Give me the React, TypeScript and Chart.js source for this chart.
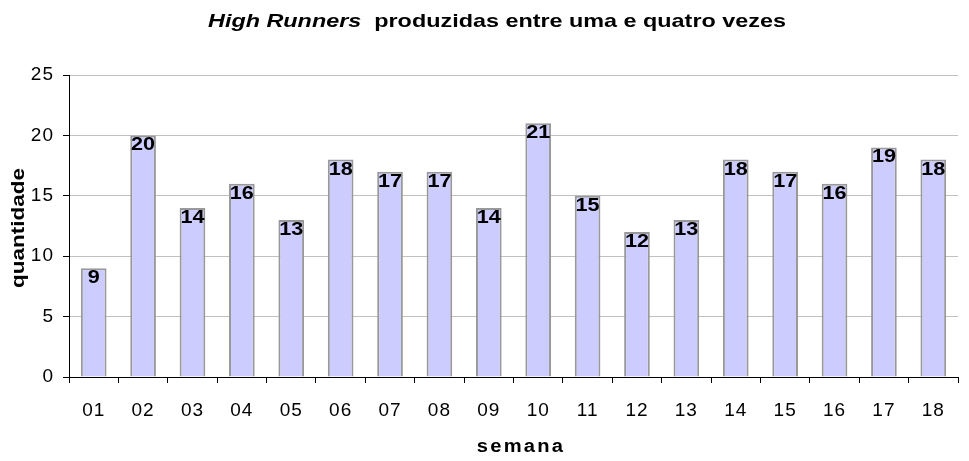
import React, { useEffect, useRef } from "react";
import { Chart, registerables } from "chart.js";

Chart.register(...registerables);

const categories = ["01", "02", "03", "04", "05", "06", "07", "08", "09", "10", "11", "12", "13", "14", "15", "16", "17", "18"];
const quantidade = [9, 20, 14, 16, 13, 18, 17, 17, 14, 21, 15, 12, 13, 18, 17, 16, 19, 18];
const yTicks = [0, 5, 10, 15, 20, 25];

const FONT = "'Liberation Sans', Arial, sans-serif";

const spacingPlugin = {
  id: "tickSpacing",
  beforeDraw(chart: any) {
    chart.ctx.letterSpacing = "1px";
  },
  beforeDatasetsDraw(chart: any) {
    chart.ctx.letterSpacing = "0px";
  },
};

const labelPlugin = {
  id: "barLabels",
  afterDatasetsDraw(chart: any) {
    const ctx = chart.ctx;
    const meta = chart.getDatasetMeta(0);
    meta.data.forEach((bar: any, i: number) => {
      ctx.save();
      ctx.letterSpacing = "0px";
      ctx.font = `bold 18px ${FONT}`;
      ctx.fillStyle = "#000";
      ctx.textAlign = "center";
      ctx.textBaseline = "top";
      ctx.translate(bar.x, bar.y + 1);
      ctx.scale(1.2, 1);
      ctx.fillText(String(chart.data.datasets[0].data[i]), 0, 0);
      ctx.restore();
    });
  },
};

export default function App() {
  const ref = useRef<HTMLCanvasElement>(null);
  useEffect(() => {
    const chart = new Chart(ref.current!, {
      type: "bar",
      data: {
        labels: categories,
        datasets: [
          {
            data: quantidade,
            backgroundColor: "#ccccff",
            borderColor: "#999999",
            borderWidth: 2,
            borderSkipped: "bottom",
            barPercentage: 0.52,
            categoryPercentage: 1,
          },
        ],
      },
      options: {
        animation: false,
        responsive: false,
        layout: { padding: { top: 75, right: 11, left: 0, bottom: 0 } },
        plugins: { legend: { display: false }, tooltip: { enabled: false }, title: { display: false } },
        scales: {
          x: {
            afterFit(scale: any) {
              scale.height = 84;
            },
            grid: { display: true, drawOnChartArea: false, drawTicks: true, tickLength: 6, tickColor: "#000", offset: true },
            border: { display: true, color: "#000", width: 1 },
            ticks: { color: "#000", font: { family: FONT, size: 19 }, padding: 16, maxRotation: 0, autoSkip: false },
          },
          y: {
            min: 0,
            max: 25,
            afterFit(scale: any) {
              scale.width = 69;
            },
            afterBuildTicks(scale: any) {
              scale.ticks = yTicks.map((v) => ({ value: v }));
            },
            grid: { color: "#c0c0c0", lineWidth: 1, tickLength: 6, tickColor: "#000", drawTicks: true },
            border: { display: true, color: "#000", width: 1 },
            ticks: { color: "#000", font: { family: FONT, size: 19 }, padding: 9 },
          },
        },
      },
      plugins: [spacingPlugin, labelPlugin],
    });
    return () => chart.destroy();
  }, []);

  return (
    <div style={{ position: "absolute", left: 0, top: 0, width: 969, height: 461, background: "#fff", fontFamily: FONT }}>
      <canvas ref={ref} width={969} height={461} style={{ position: "absolute", left: 0, top: 0 }} />
      <div
        style={{
          position: "absolute",
          left: 497,
          top: 10,
          transform: "translateX(-50%) scaleX(1.23)",
          fontSize: 19,
          fontWeight: "bold",
          color: "#000",
          lineHeight: "22px",
          whiteSpace: "nowrap",
        }}
      >
        <i>High Runners</i>&nbsp; produzidas entre uma e quatro vezes
      </div>
      <div
        style={{
          position: "absolute",
          left: 18,
          top: 228,
          transform: "translate(-50%, -50%) rotate(-90deg) scaleX(1.25)",
          fontSize: 18,
          fontWeight: "bold",
          color: "#000",
          whiteSpace: "nowrap",
          lineHeight: "22px",
        }}
      >
        quantidade
      </div>
      <div
        style={{
          position: "absolute",
          left: 521,
          top: 435,
          transform: "translateX(-50%) scaleX(1.12)",
          fontSize: 18,
          fontWeight: "bold",
          letterSpacing: 2,
          color: "#000",
          lineHeight: "22px",
          whiteSpace: "nowrap",
        }}
      >
        semana
      </div>
    </div>
  );
}
